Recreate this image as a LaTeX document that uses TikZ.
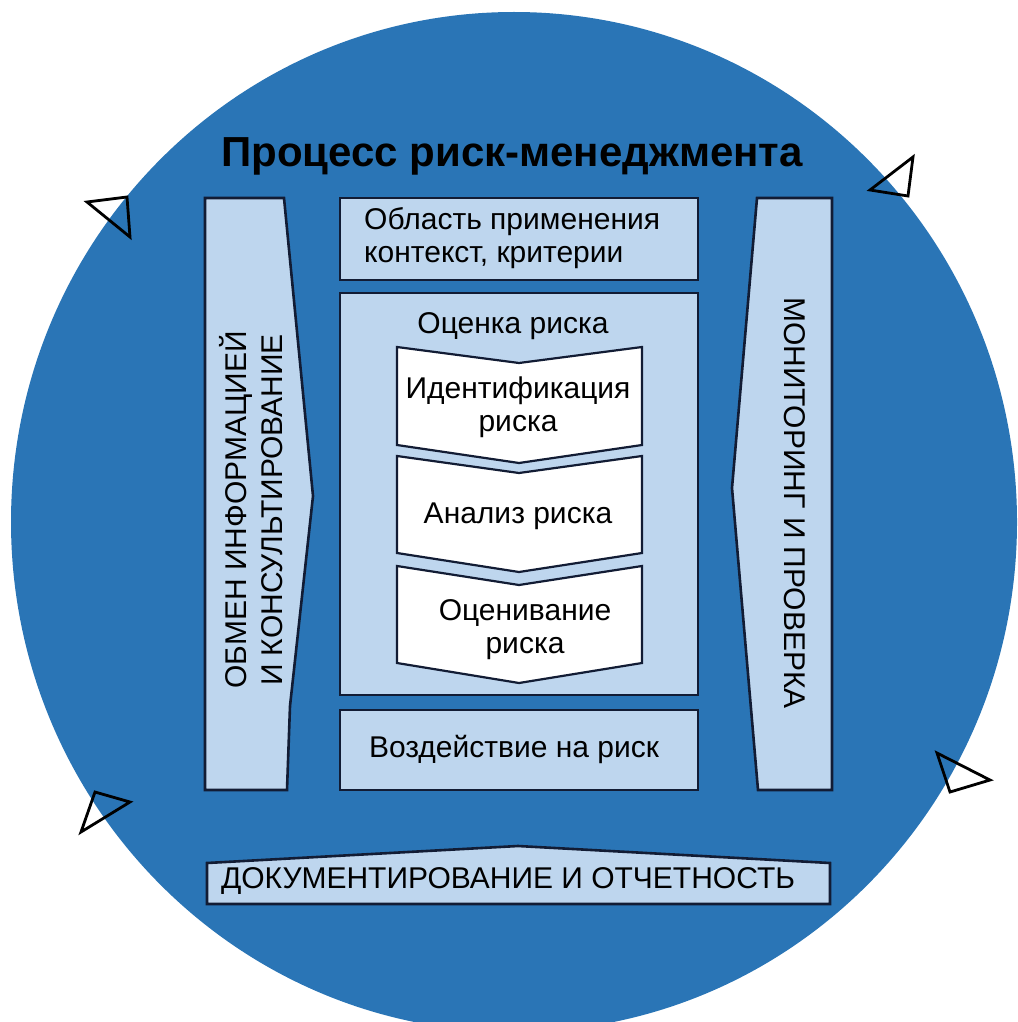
\documentclass[tikz,border=0pt]{standalone}
\usepackage{fontspec}
\setmainfont{Liberation Sans}
\definecolor{circblue}{RGB}{42,117,182}
\definecolor{lightbox}{RGB}{190,214,238}
\definecolor{edgecol}{RGB}{18,28,52}
\tikzset{
  panel/.style={fill=lightbox, draw=edgecol, line width=2.6pt, line join=miter},
  chev/.style={fill=white, draw=edgecol, line width=2.2pt, line join=miter},
  tri/.style={draw=black, line width=2.8pt, line join=miter},
  lbl/.style={font=\fontsize{30}{33}\selectfont, inner sep=0pt, text=black},
  caps/.style={font=\fontsize{30}{36}\selectfont, inner sep=0pt, text=black},
}
\begin{document}
\begin{tikzpicture}[x=1pt,y=-1pt]
\useasboundingbox (0,0) rectangle (1017,1022);
\clip (0,0) rectangle (1017,1022);
% big circle
\fill[circblue] (514,522) ellipse [x radius=503, y radius=510];
% title
\node[font=\bfseries\fontsize{42}{48}\selectfont, anchor=base, inner sep=0pt] (title) at (512,166) {Процесс риск-менеджмента};
% side bars
\draw[panel] (205,198) -- (284,198) -- (313,496) -- (290,706) -- (287,790) -- (205,790) -- cycle;
\draw[panel] (757,198) -- (832,198) -- (832,790) -- (758,790) -- (732,488) -- cycle;
% middle boxes
\draw[panel] (340,198) rectangle (698,280);
\draw[panel] (340,293) rectangle (698,695);
\draw[panel] (340,710) rectangle (698,790);
% chevrons
\draw[chev] (397,347) -- (519,363) -- (642,347) -- (642,445) -- (519,463) -- (397,445) -- cycle;
\draw[chev] (397,456) -- (519,473) -- (642,456) -- (642,553) -- (519,572) -- (397,553) -- cycle;
\draw[chev] (397,566) -- (519,585) -- (642,566) -- (642,663) -- (519,683) -- (397,663) -- cycle;
% documenting bar
\draw[panel] (207,863) -- (518,846) -- (830,863) -- (830,904) -- (207,904) -- cycle;
% triangles
\draw[tri] (87,202) -- (127,197) -- (130,237) -- cycle;
\draw[tri] (870,190) -- (913,157) -- (908,196) -- cycle;
\draw[tri] (81,832) -- (95,792) -- (130,802) -- cycle;
\draw[tri] (937,753) -- (990,780) -- (950,792) -- cycle;
% texts
\node[lbl, align=left, anchor=west] (obl) at (364,238) {Область применения\\контекст, критерии};
\node[lbl] (ocenka) at (513,326) {Оценка риска};
\node[lbl, align=center] (ident) at (518,407) {Идентификация\\риска};
\node[lbl] (analiz) at (518,516) {Анализ риска};
\node[lbl, align=center] (ocen) at (525,630) {Оценивание\\риска};
\node[lbl] (vozd) at (514,749) {Воздействие на риск};
\node[caps, rotate=90, align=center] (obmen) at (251,510) {ОБМЕН ИНФОРМАЦИЕЙ\\И КОНСУЛЬТИРОВАНИЕ};
\node[caps, rotate=-90] (monit) at (795,503) {МОНИТОРИНГ И ПРОВЕРКА};
\node[caps] (doc) at (508,881) {ДОКУМЕНТИРОВАНИЕ И ОТЧЕТНОСТЬ};
\end{tikzpicture}
\end{document}
